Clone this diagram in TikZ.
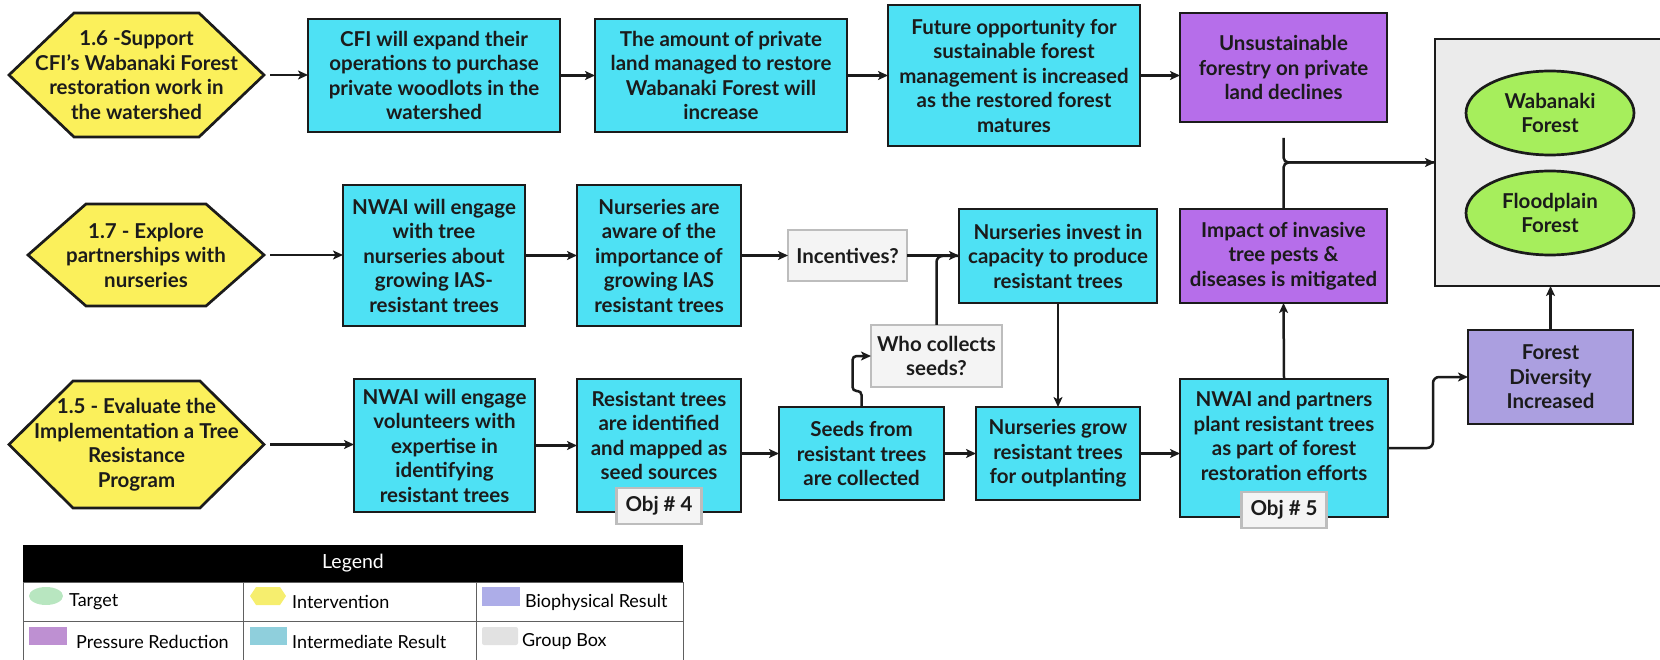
\documentclass[tikz,border=0pt]{standalone}
\usepackage{fontspec}
\setmainfont{Lato}
\usetikzlibrary{arrows.meta,calc,shapes.geometric}

\definecolor{irblue}{HTML}{4EE1F4}
\definecolor{hexyel}{HTML}{FBF05B}
\definecolor{prpurple}{HTML}{B66EEA}
\definecolor{biolav}{HTML}{AB9FE0}
\definecolor{tgreen}{HTML}{A6EE5C}
\definecolor{grpgray}{HTML}{EBEBEB}
\definecolor{qfill}{HTML}{F4F4F4}
\definecolor{qline}{HTML}{BDBDBD}
\definecolor{ink}{HTML}{1B1B1B}
\definecolor{lgGreen}{HTML}{B8E6C0}
\definecolor{lgYellow}{HTML}{F6EE6E}
\definecolor{lgLav}{HTML}{ADADE8}
\definecolor{lgPurple}{HTML}{BE90D2}
\definecolor{lgBlue}{HTML}{8FCFDC}
\definecolor{lgGray}{HTML}{E2E2E2}
\definecolor{lgRule}{HTML}{606060}

\newcommand\boxfont{\fontsize{20.5}{24.5}\selectfont\bfseries}
\newcommand\legendfont{\fontsize{18}{21}\selectfont}
\newcommand\legendhead{\fontsize{19.5}{22}\selectfont}

% rectangular node given by its two corners: name, x1, y1, x2, y2, style, text
\newcommand\rbox[7]{%
  \node[#6,minimum width={(#4-#2)*1pt},minimum height={(#5-#3)*1pt}]
    (#1) at ({(#2+#4)/2},{(#3+#5)/2}) {#7};}

% intervention hexagon: name, x1, y1, x2, y2, inset, text
\newcommand\hexnode[7]{%
  \filldraw[hexshape] (#2,{(#3+#5)/2}) -- ({#2+#6},#3) -- ({#4-#6},#3)
    -- (#4,{(#3+#5)/2}) -- ({#4-#6},#5) -- ({#2+#6},#5) -- cycle;
  \node[hextext,minimum width={(#4-#2)*1pt},minimum height={(#5-#3)*1pt}]
    (#1) at ({(#2+#4)/2},{(#3+#5)/2}) {#7};}

\begin{document}
\begin{tikzpicture}[x=1pt,y=-1pt,
  base/.style={align=center,font=\boxfont,inner sep=0pt,outer sep=0pt,text=ink},
  irbox/.style={base,draw=ink,line width=2.7pt,fill=irblue},
  prbox/.style={base,draw=ink,line width=2.7pt,fill=prpurple},
  biobox/.style={base,draw=ink,line width=2.7pt,fill=biolav},
  grpbox/.style={draw=ink,line width=2.7pt,fill=grpgray,inner sep=0pt,outer sep=0pt},
  qbox/.style={base,draw=qline,line width=2.4pt,fill=qfill},
  hexshape/.style={draw=ink,line width=2.7pt,fill=hexyel,line join=miter},
  hextext/.style={base,draw=none},
  target/.style={base,ellipse,draw=ink,line width=2.7pt,fill=tgreen},
  txt/.style={base,draw=none},
  line/.style={draw=ink,line width=2.5pt},
  arr/.style={line,-{Stealth[length=10pt,width=9pt,inset=2.5pt]}},
  lgtext/.style={font=\legendfont,anchor=west,inner sep=0pt,text=black},
  lgrid/.style={draw=lgRule,line width=1pt}]

\useasboundingbox (0,0) rectangle (1660,660);

% ---------- group box with targets ----------
\rbox{grp}{1435}{39}{1685}{286}{grpbox}{}
\node[target,minimum width=168pt,minimum height=84pt] (wab) at (1550,113) {Wabanaki\\Forest};
\node[target,minimum width=168pt,minimum height=84pt] (flood) at (1550,213) {Floodplain\\Forest};

% ---------- row 1 ----------
\hexnode{h16}{9}{13}{264}{137}{65}{1.6 -Support\\CFI's Wabanaki Forest\\restoration work in\\the watershed}
\rbox{cfi}{308}{19}{560}{132}{irbox}{CFI will expand their\\operations to purchase\\private woodlots in the\\watershed}
\rbox{amount}{595}{19}{847}{132}{irbox}{The amount of private\\land managed to restore\\Wabanaki Forest will\\increase}
\rbox{future}{888}{5}{1140}{146}{irbox}{Future opportunity for\\sustainable forest\\management is increased\\as the restored forest\\matures}
\rbox{unsus}{1180}{13}{1387}{122}{prbox}{Unsustainable\\forestry on private\\land declines}

% ---------- row 2 ----------
\hexnode{h17}{28}{204}{264}{306}{58}{1.7 - Explore\\partnerships with\\nurseries}
\rbox{tree}{343}{185}{525}{326}{irbox}{NWAI will engage\\with tree\\nurseries about\\growing IAS-\\resistant trees}
\rbox{aware}{577}{185}{741}{326}{irbox}{Nurseries are\\aware of the\\importance of\\growing IAS\\resistant trees}
\rbox{incent}{788}{230}{907}{281}{qbox}{Incentives?}
\rbox{invest}{959}{209}{1157}{303}{irbox}{Nurseries invest in\\capacity to produce\\resistant trees}
\rbox{impact}{1180}{209}{1387}{303}{prbox}{Impact of invasive\\tree pests \&\\diseases is mitigated}
\rbox{who}{871}{325}{1002}{387}{qbox}{Who collects\\seeds?}

% ---------- row 3 ----------
\hexnode{h15}{9}{381}{264}{508}{64}{1.5 - Evaluate the\\Implementation a Tree\\Resistance\\Program}
\rbox{vol}{354}{379}{535}{512}{irbox}{NWAI will engage\\volunteers with\\expertise in\\identifying\\resistant trees}
\rbox{resist}{577}{379}{741}{512}{irbox}{}
\node[txt] (resistT) at ([yshift=10pt]resist.center) {Resistant trees\\are identified\\and mapped as\\seed sources};
\rbox{seeds}{779}{407}{944}{500}{irbox}{Seeds from\\resistant trees\\are collected}
\rbox{grow}{976}{407}{1140}{500}{irbox}{Nurseries grow\\resistant trees\\for outplanting}
\rbox{plant}{1180}{379}{1388}{517}{irbox}{}
\node[txt] (plantT) at ([yshift=12pt]plant.center) {NWAI and partners\\plant resistant trees\\as part of forest\\restoration efforts};
\rbox{div}{1468}{330}{1633}{424}{biobox}{Forest\\Diversity\\Increased}

\node[qbox,minimum width=85pt,minimum height=36pt] (obj4) at ([yshift=6pt]resist.south) {Obj \# 4};
\node[qbox,minimum width=85pt,minimum height=36pt] (obj5) at ([yshift=7pt]plant.south) {Obj \# 5};

% ---------- connectors ----------
\draw[arr,shorten <=6pt] (h16.east) -- (h16.east -| cfi.west);
\draw[arr] (cfi.east) -- (cfi.east -| amount.west);
\draw[arr] (amount.east) -- (amount.east -| future.west);
\draw[arr] (future.east) -- (future.east -| unsus.west);

\draw[arr,shorten <=6pt] (h17.east) -- (h17.east -| tree.west);
\draw[arr] (tree.east) -- (tree.east -| aware.west);
\draw[arr] (aware.east) -- (aware.east -| incent.west);
\draw[line,rounded corners=6pt] (who.north) |- (invest.west);
\draw[arr] (incent.east) -- (incent.east -| invest.west);
\draw[arr] (invest.south) -- (grow.north);

\draw[arr,shorten <=6pt] (h15.east) -- (h15.east -| vol.west);
\draw[arr] (vol.east) -- (vol.east -| resist.west);
\draw[arr] (seeds.west -| resist.east) -- (seeds.west);
\draw[arr] (seeds.east) -- (grow.west);
\draw[arr] (grow.east) -- (grow.east -| plant.west);
\draw[arr,rounded corners=4pt] (seeds.north) -- ++(0,-16) -- ++(-9,0) |- (who.west);

\draw[arr] (plant.north) -- (impact.south);
\coordinate (unsusEnd) at ([yshift=-16pt]unsus.south);
\draw[line,rounded corners=5pt] (unsusEnd) |- (grp.west);
\draw[arr,rounded corners=5pt] (impact.north) |- (grp.west);
\draw[arr,rounded corners=6pt] (plant.east) -- ++(45,0) |- (div.west);
\draw[arr] (div.north) -- (div.north |- grp.south);

% ---------- legend ----------
\node[fill=black,minimum width=660pt,minimum height=37pt,inner sep=0pt,
      text=white,font=\legendhead] (lghead) at (353,563.5) {Legend};
\draw[lgrid] (23,582) -- (23,662) (243,582) -- (243,662) (476,582) -- (476,662)
  (683,582) -- (683,662) (23,582) -- (683,582) (23,621) -- (683,621);

\node[ellipse,fill=lgGreen,minimum width=34pt,minimum height=18pt,inner sep=0pt] (lgT) at (46,596) {};
\node[lgtext] (lgTt) at (69,602) {Target};
\fill[lgYellow] (250,596) -- (256,587) -- (280,587) -- (286,596) -- (280,605) -- (256,605) -- cycle;
\node[lgtext] (lgIt) at (292,602) {Intervention};
\fill[lgLav] (482,587) rectangle (520,606);
\node[lgtext] (lgBt) at (525,602) {Biophysical Result};
\fill[lgPurple] (29,627) rectangle (67,645);
\node[lgtext] (lgPt) at (76,642) {Pressure Reduction};
\fill[lgBlue] (250,627) rectangle (287,645);
\node[lgtext] (lgMt) at (292,642) {Intermediate Result};
\fill[lgGray,rounded corners=2pt] (482,627) rectangle (518,645);
\node[lgtext] (lgGt) at (522,642) {Group Box};
\end{tikzpicture}
\end{document}
